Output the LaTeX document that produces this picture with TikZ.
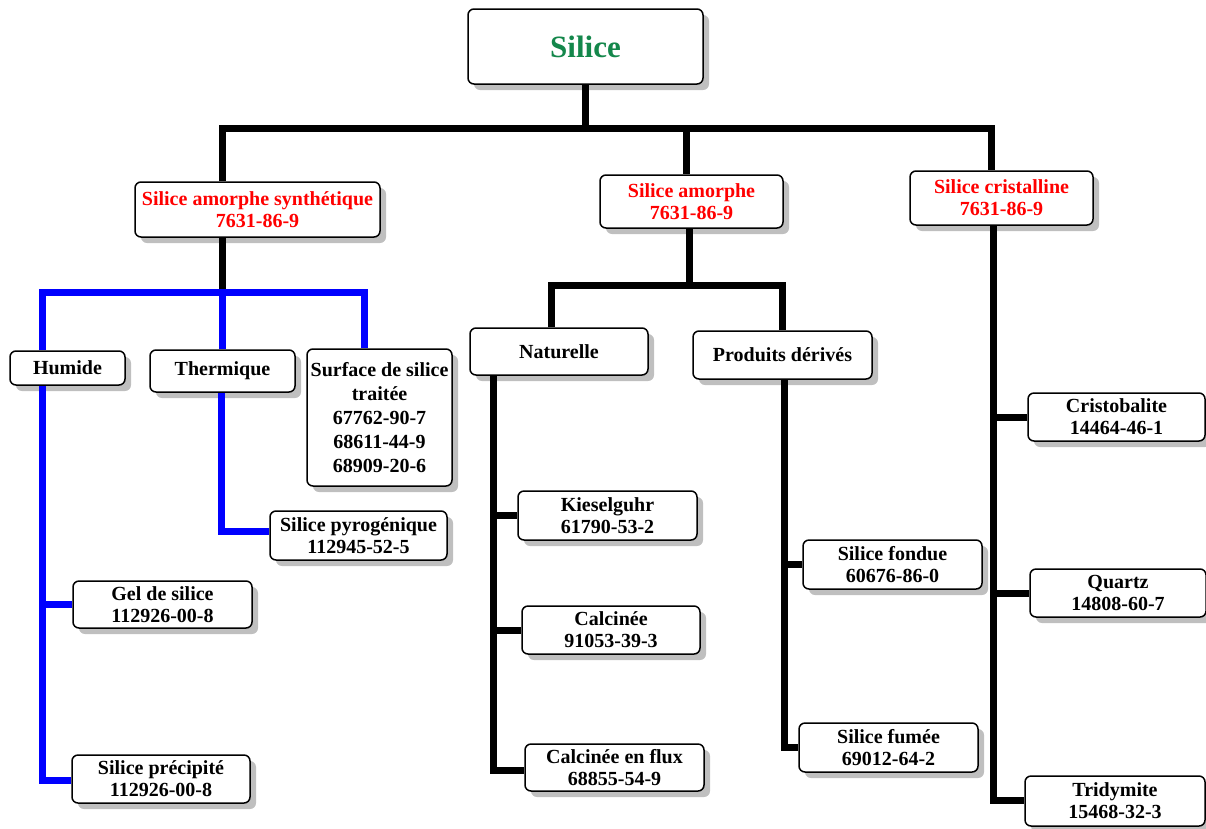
\documentclass[tikz,border=0pt]{standalone}
\usepackage{fontspec}
\setmainfont{Liberation Serif}
\usetikzlibrary{shadows}
\definecolor{titlegreen}{RGB}{20,135,75}
\begin{document}
\begin{tikzpicture}[x=1pt,y=-1pt,
  box/.style={draw=black, line width=1.5pt, rounded corners=6pt, fill=white,
    align=center, inner sep=2pt, font=\bfseries\fontsize{20}{22}\selectfont,
    drop shadow={shadow xshift=6pt, shadow yshift=-6pt, fill=black!25, opacity=1}},
  redtxt/.style={text=red},
  conn/.style={line width=7pt, draw=black},
  bconn/.style={line width=7pt, draw=blue},
]
\useasboundingbox (0,0) rectangle (1206,828);
% nodes
\node[box, minimum width=235pt, minimum height=75pt, text=titlegreen,
      font=\bfseries\fontsize{31}{36}\selectfont] (silice) at (585.5,46.5) {Silice};
\node[box, redtxt, minimum width=245pt, minimum height=55pt] (syn) at (257.5,209.5) {Silice amorphe synthétique\\7631-86-9};
\node[box, redtxt, minimum width=183pt, minimum height=53pt] (amo) at (691.5,201.5) {Silice amorphe\\7631-86-9};
\node[box, redtxt, minimum width=183pt, minimum height=54pt] (cri) at (1001.5,198) {Silice cristalline\\7631-86-9};
\node[box, minimum width=115pt, minimum height=34pt] (hum) at (67.5,368) {Humide};
\node[box, minimum width=145pt, minimum height=42pt] (the) at (222.5,371) {Thermique};
\node[box, minimum width=145pt, minimum height=137pt,
      font=\bfseries\fontsize{20}{24}\selectfont] (sur) at (379.5,417.5) {Surface de silice\\traitée\\67762-90-7\\68611-44-9\\68909-20-6};
\node[box, minimum width=178pt, minimum height=47pt] (nat) at (559,351.5) {Naturelle};
\node[box, minimum width=179pt, minimum height=48pt] (pro) at (782.5,355) {Produits dérivés};
\node[box, minimum width=179pt, minimum height=49pt] (kie) at (607.5,515.5) {Kieselguhr\\61790-53-2};
\node[box, minimum width=178pt, minimum height=48pt] (cal) at (611,630) {Calcinée\\91053-39-3};
\node[box, minimum width=179pt, minimum height=47pt] (flux) at (614.5,767.5) {Calcinée en flux\\68855-54-9};
\node[box, minimum width=179pt, minimum height=49pt] (fon) at (892.5,564.5) {Silice fondue\\60676-86-0};
\node[box, minimum width=179pt, minimum height=49pt] (fum) at (888.5,747.5) {Silice fumée\\69012-64-2};
\node[box, minimum width=177pt, minimum height=49pt] (pyr) at (358.5,535.5) {Silice pyrogénique\\112945-52-5};
\node[box, minimum width=179pt, minimum height=47pt] (gel) at (162.5,604.5) {Gel de silice\\112926-00-8};
\node[box, minimum width=178pt, minimum height=48pt] (pre) at (161,779) {Silice précipité\\112926-00-8};
\node[box, minimum width=177pt, minimum height=48pt] (crb) at (1116.5,417) {Cristobalite\\14464-46-1};
\node[box, minimum width=176pt, minimum height=48pt] (qua) at (1118,593) {Quartz\\14808-60-7};
\node[box, minimum width=180pt, minimum height=50pt] (tri) at (1115,801) {Tridymite\\15468-32-3};
% junction coordinates
\coordinate (bl) at (222,128);
\coordinate (bm) at (686,128);
\coordinate (br) at (991,128);
\coordinate (sj) at (222,292);
\coordinate (sl) at (42,292);
\coordinate (sr) at (364,292);
\coordinate (hc) at (42,780);
\coordinate (tc) at (221,531);
\coordinate (mj) at (689,285);
\coordinate (ml) at (551,285);
\coordinate (mr) at (782,285);
\coordinate (nc) at (493,770);
\coordinate (pc) at (784,747);
\coordinate (cc) at (993,800);
% black top level
\draw[conn] (silice.south) -- (silice.south |- bl);
\draw[conn] (bl |- syn.north) -- (bl) -- (br) -- (br |- cri.north);
\draw[conn] (bm) -- (bm |- amo.north);
% left subtree
\draw[conn] (sj |- syn.south) -- (sj);
\draw[bconn] (sl |- hum.north) -- (sl) -- (sr) -- (sr |- sur.north);
\draw[bconn] (sj) -- (sj |- the.north);
\draw[bconn] (hc |- hum.south) -- (hc) -- (hc -| pre.west);
\draw[bconn] (gel.west -| hc) -- (gel.west);
\draw[bconn] (tc |- the.south) -- (tc) -- (tc -| pyr.west);
% middle subtree
\draw[conn] (mj |- amo.south) -- (mj);
\draw[conn] (ml |- nat.north) -- (ml) -- (mr) -- (mr |- pro.north);
\draw[conn] (nc |- nat.south) -- (nc) -- (nc -| flux.west);
\draw[conn] (kie.west -| nc) -- (kie.west);
\draw[conn] (cal.west -| nc) -- (cal.west);
\draw[conn] (pc |- pro.south) -- (pc) -- (pc -| fum.west);
\draw[conn] (fon.west -| pc) -- (fon.west);
% right subtree
\draw[conn] (cc |- cri.south) -- (cc) -- (cc -| tri.west);
\draw[conn] (crb.west -| cc) -- (crb.west);
\draw[conn] (qua.west -| cc) -- (qua.west);
\end{tikzpicture}
\end{document}
